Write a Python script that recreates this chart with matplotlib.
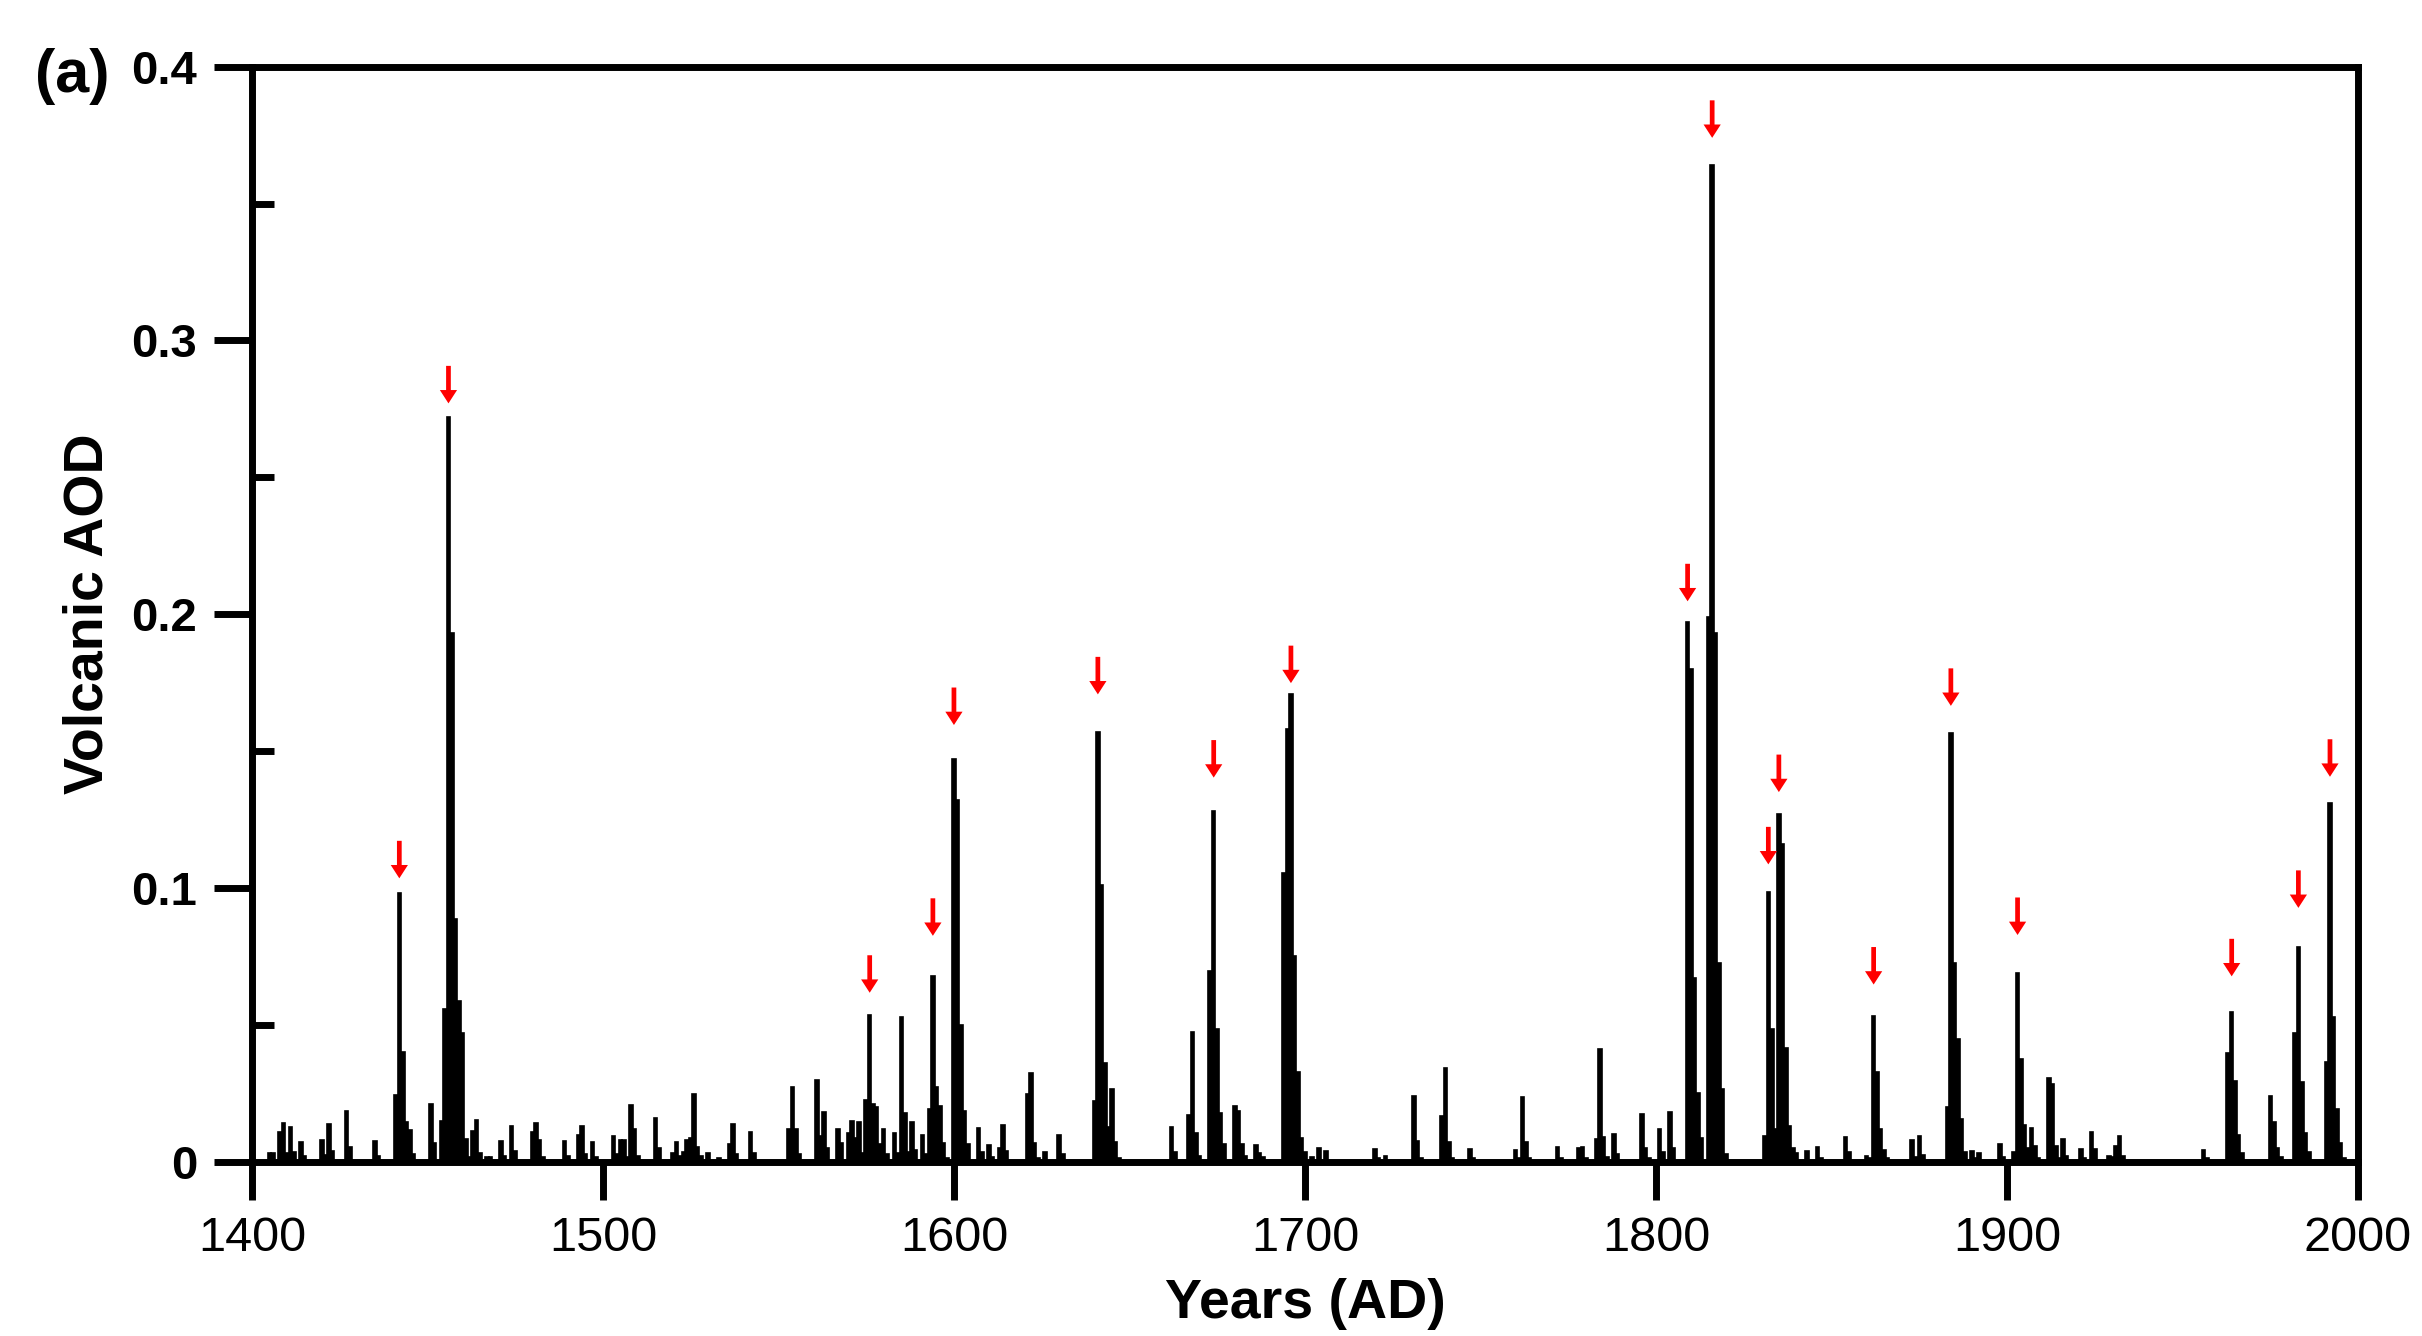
#!/usr/bin/env python3
import matplotlib

matplotlib.use("Agg")
import matplotlib.pyplot as plt
import numpy as np
from matplotlib.ticker import MultipleLocator

# Annual volcanic AOD (years not listed are zero)
event_years = [
    1405, 1406, 1408, 1409, 1410, 1411, 1412, 1414, 1415, 1420, 1421, 1422, 1423,
    1427, 1428, 1435, 1436, 1441, 1442, 1443, 1444, 1445, 1446, 1451, 1452, 1454,
    1455, 1456, 1457, 1458, 1459, 1460, 1461, 1462, 1463, 1464, 1465, 1467, 1468,
    1471, 1472, 1474, 1475, 1480, 1481, 1482, 1483, 1489, 1490, 1493, 1494, 1495,
    1497, 1498,
    1503, 1504, 1505, 1506, 1507, 1508, 1509, 1510, 1515, 1516, 1520, 1521, 1522,
    1523, 1524, 1525, 1526, 1527, 1528, 1530, 1533, 1536, 1537, 1538, 1542, 1543,
    1553, 1554, 1555, 1556, 1561, 1562, 1563, 1564, 1567, 1568, 1570, 1571, 1572,
    1573, 1574, 1575, 1576, 1577, 1578, 1579, 1580, 1581, 1583, 1584, 1585, 1586,
    1587, 1588, 1589, 1591, 1592, 1593, 1594, 1595, 1596, 1597, 1598,
    1600, 1601, 1602, 1603, 1604, 1607, 1608, 1610, 1611, 1613, 1614, 1615, 1621,
    1622, 1623, 1624, 1626, 1630, 1631, 1640, 1641, 1642, 1643, 1644, 1645, 1646,
    1647, 1662, 1663, 1667, 1668, 1669, 1670, 1673, 1674, 1675, 1676, 1677, 1680,
    1681, 1682, 1683, 1686, 1687, 1688, 1694, 1695, 1696, 1697, 1698, 1699, 1700,
    1702, 1704, 1706, 1720, 1721, 1723, 1731, 1732, 1733, 1739, 1740, 1741, 1742,
    1747, 1748, 1760, 1761, 1762, 1763, 1764, 1772, 1773, 1778, 1779, 1780, 1783,
    1784, 1785, 1786, 1788, 1789, 1796, 1797, 1798,
    1801, 1802, 1804, 1805, 1809, 1810, 1811, 1812, 1813, 1815, 1816, 1817, 1818,
    1819, 1820, 1831, 1832, 1833, 1834, 1835, 1836, 1837, 1838, 1839, 1840, 1843,
    1846, 1847, 1854, 1855, 1860, 1861, 1862, 1863, 1864, 1865, 1866, 1873, 1874,
    1875, 1876, 1883, 1884, 1885, 1886, 1887, 1888, 1890, 1891, 1892, 1898, 1899,
    1902, 1903, 1904, 1905, 1906, 1907, 1908, 1909, 1912, 1913, 1914, 1915, 1916,
    1917, 1921, 1922, 1924, 1925, 1929, 1930, 1931, 1932, 1933, 1956, 1957, 1963,
    1964, 1965, 1966, 1967, 1975, 1976, 1977, 1978, 1982, 1983, 1984, 1985, 1986,
    1991, 1992, 1993, 1994, 1995, 1996,
]
event_aod = [
    0.003, 0.003, 0.011, 0.014, 0.003, 0.0128, 0.0037, 0.007, 0.002, 0.008, 0.0024, 0.0137, 0.004,
    0.0185, 0.0055, 0.0076, 0.002, 0.0244, 0.098, 0.040, 0.0146, 0.0116, 0.0027, 0.021, 0.0067, 0.0149,
    0.0557, 0.272, 0.193, 0.0885, 0.0587, 0.047, 0.0083, 0.0018, 0.0113, 0.0151, 0.003, 0.0016, 0.0016,
    0.0077, 0.002, 0.0132, 0.004, 0.0107, 0.014, 0.008, 0.0016, 0.0077, 0.002, 0.0097, 0.0132, 0.0027,
    0.007, 0.0018,
    0.0095, 0.0027, 0.0078, 0.008, 0.0018, 0.0207, 0.0118, 0.002, 0.0158, 0.0049, 0.003, 0.007, 0.002,
    0.0034, 0.0078, 0.0085, 0.0247, 0.0054, 0.002, 0.003, 0.0015, 0.0063, 0.0136, 0.0028, 0.011, 0.003,
    0.0118, 0.0274, 0.0118, 0.0027, 0.0298, 0.0095, 0.0183, 0.005, 0.0119, 0.0067, 0.0105, 0.015, 0.0085,
    0.0144, 0.003, 0.0225, 0.0535, 0.021, 0.0199, 0.0063, 0.012, 0.0027, 0.0104, 0.003, 0.0528, 0.0178,
    0.0037, 0.0146, 0.0041, 0.0097, 0.0027, 0.0192, 0.068, 0.0274, 0.0205, 0.0067, 0.0012,
    0.147, 0.132, 0.050, 0.0185, 0.0064, 0.0122, 0.0037, 0.0061, 0.0016, 0.0049, 0.0134, 0.0039, 0.0247,
    0.0323, 0.0067, 0.0015, 0.0037, 0.0097, 0.0027, 0.022, 0.157, 0.101, 0.036, 0.0128, 0.0264, 0.0072,
    0.0012, 0.0127, 0.0037, 0.017, 0.0474, 0.0105, 0.0022, 0.0695, 0.128, 0.0485, 0.0177, 0.0064, 0.0205,
    0.0185, 0.0065, 0.0022, 0.006, 0.003, 0.0016, 0.1055, 0.158, 0.171, 0.075, 0.0326, 0.0088, 0.0037,
    0.0016, 0.0051, 0.004, 0.0048, 0.0012, 0.0022, 0.024, 0.0077, 0.0015, 0.0168, 0.0341, 0.0073, 0.0015,
    0.0048, 0.0012, 0.0044, 0.0015, 0.0235, 0.0071, 0.0015, 0.0052, 0.0015, 0.0049, 0.0052, 0.0012, 0.0083,
    0.0413, 0.0091, 0.0018, 0.0101, 0.0028, 0.0173, 0.0051, 0.0012,
    0.0119, 0.0034, 0.018, 0.0051, 0.197, 0.180, 0.067, 0.025, 0.0085, 0.199, 0.364, 0.193, 0.0727,
    0.0266, 0.0027, 0.0095, 0.0985, 0.0485, 0.012, 0.127, 0.116, 0.0414, 0.013, 0.005, 0.0033, 0.0039,
    0.0054, 0.0015, 0.0091, 0.0037, 0.0022, 0.0015, 0.0533, 0.0329, 0.0119, 0.0043, 0.0012, 0.0079, 0.0018,
    0.0094, 0.0024, 0.020, 0.1565, 0.0725, 0.0448, 0.0155, 0.0034, 0.004, 0.0012, 0.0033, 0.0066, 0.0018,
    0.0037, 0.069, 0.0375, 0.0134, 0.0049, 0.0122, 0.0058, 0.0015, 0.0305, 0.0283, 0.0058, 0.0015, 0.0082,
    0.0022, 0.0048, 0.0015, 0.011, 0.0045, 0.002, 0.0016, 0.0057, 0.0094, 0.0022, 0.0044, 0.0012, 0.0396,
    0.0545, 0.0296, 0.0097, 0.003, 0.024, 0.0146, 0.0051, 0.0016, 0.047, 0.0785, 0.029, 0.0104, 0.0037,
    0.0365, 0.131, 0.053, 0.0192, 0.0067, 0.0012,
]

# Marked eruptions: year and AOD level of the arrow tip
arrow_years = [1442, 1456, 1576, 1594, 1600, 1641, 1674, 1696, 1809,
               1816, 1832, 1835, 1862, 1884, 1903, 1964, 1983, 1992]
arrow_tip_aod = [0.1035, 0.277, 0.0617, 0.0825, 0.1595, 0.1707, 0.1403, 0.1748, 0.2047,
                 0.374, 0.1086, 0.135, 0.0647, 0.1665, 0.0828, 0.0677, 0.0927, 0.1406]

x_ticks = [1400, 1500, 1600, 1700, 1800, 1900, 2000]
y_ticks = [0.0, 0.1, 0.2, 0.3, 0.4]
y_tick_labels = ["0", "0.1", "0.2", "0.3", "0.4"]

plt.rcParams["font.family"] = ["Liberation Sans", "DejaVu Sans"]


def main() -> None:
    years = np.arange(1400, 2001)
    aod = np.zeros(len(years))
    for y, v in zip(event_years, event_aod):
        aod[y - 1400] = v

    fig = plt.figure(figsize=(12.11, 6.68), dpi=200)
    ax = fig.add_axes([0.1040, 0.1305, 0.8696, 0.8196])

    ax.bar(years, aod, width=1.0, color="black", edgecolor="black", linewidth=0.6, zorder=2)

    for yr, tip in zip(arrow_years, arrow_tip_aod):
        ax.annotate(
            "",
            xy=(yr, tip),
            xytext=(0, 13.5),
            textcoords="offset points",
            arrowprops=dict(
                arrowstyle="simple,head_length=0.48,head_width=0.62,tail_width=0.17",
                mutation_scale=10,
                color="#ff0000",
                lw=0,
                shrinkA=0,
                shrinkB=0,
            ),
            zorder=3,
        )

    ax.set_xlim(1400, 2000)
    ax.set_ylim(0, 0.4)
    ax.set_xticks(x_ticks)
    ax.set_xticklabels([str(t) for t in x_ticks], fontsize=17.5)
    ax.set_yticks(y_ticks)
    ax.set_yticklabels(y_tick_labels, fontsize=17, fontweight="bold")
    ax.yaxis.set_minor_locator(MultipleLocator(0.05))

    for sp in ax.spines.values():
        sp.set_linewidth(2.5)
        sp.set_zorder(4)

    ax.tick_params(axis="both", which="major", direction="out", length=13.7, width=2.5, pad=6)
    ax.tick_params(axis="y", which="minor", direction="in", length=7.9, width=2.5)
    ax.tick_params(top=False, right=False)

    ax.set_xlabel("Years (AD)", fontsize=20, fontweight="bold", labelpad=6)
    ax.set_ylabel("Volcanic AOD", fontsize=20, fontweight="bold", labelpad=6)

    fig.text(0.0145, 0.9424, "(a)", fontsize=22, fontweight="bold", va="center", ha="left")

    fig.savefig("out.png", dpi=200)
    plt.close(fig)


if __name__ == "__main__":
    main()
